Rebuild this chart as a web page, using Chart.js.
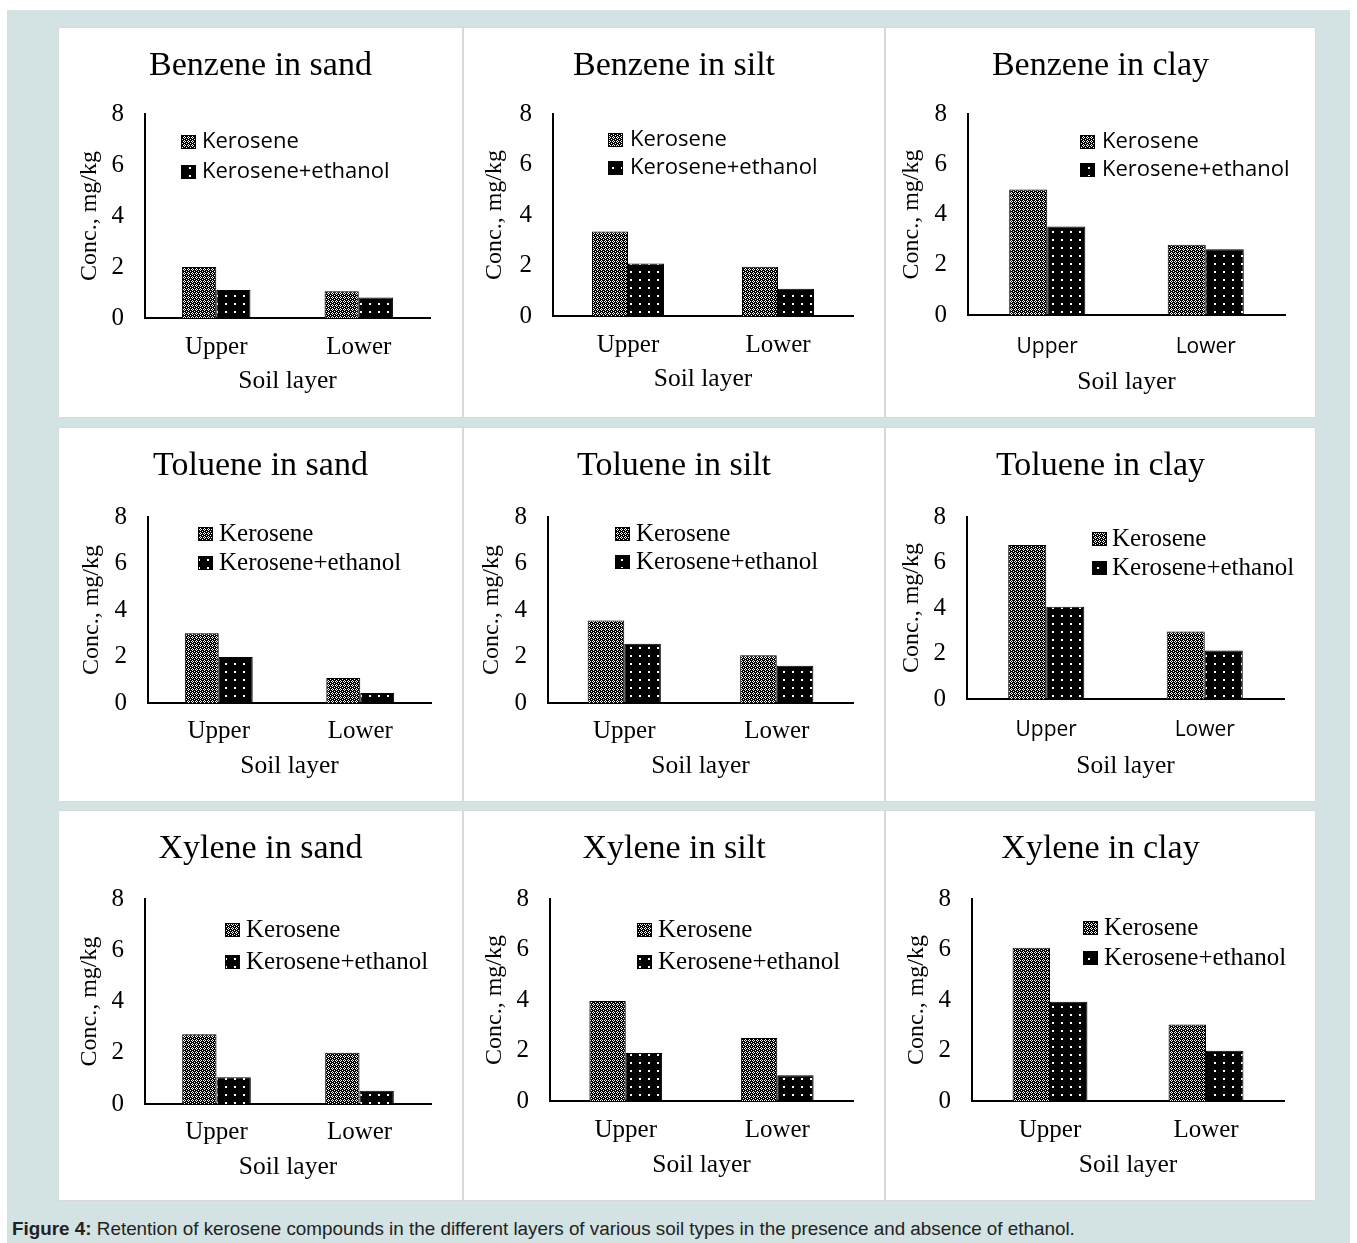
<!DOCTYPE html>
<html>
<head>
<meta charset="utf-8">
<script src="https://cdn.jsdelivr.net/npm/chart.js@4"></script>
<style>
body{margin:0;background:#fff;width:1357px;height:1243px;position:relative;overflow:hidden}
#frame{position:absolute;left:7px;top:10px;width:1343px;height:1233px;background:#d3e3e3}
.panel{position:absolute;background:#fff;border:1px solid #d9d9d9;box-sizing:border-box}
.panel canvas{position:absolute;left:0;top:0}
#caption{position:absolute;left:12px;top:1218px;font:18.85px/22px "Liberation Sans",Arial,sans-serif;color:#222;white-space:nowrap}
</style>
</head>
<body>
<div id="frame"></div>
<div id="caption"><b>Figure 4:</b> Retention of kerosene compounds in the different layers of various soil types in the presence and absence of ethanol.</div>
<script>
// categories and series names
var soilLayers = ['Upper', 'Lower'];
var seriesNames = ['Kerosene', 'Kerosene+ethanol'];
var yMin = 0, yMax = 8, yStep = 2;

// values, [Upper, Lower]
var benzeneSandKero = [2.0, 1.05];
var benzeneSandKeroEth = [1.1, 0.8];
var benzeneSiltKero = [3.35, 1.95];
var benzeneSiltKeroEth = [2.08, 1.08];
var benzeneClayKero = [5.0, 2.8];
var benzeneClayKeroEth = [3.52, 2.62];
var tolueneSandKero = [3.0, 1.08];
var tolueneSandKeroEth = [1.98, 0.43];
var tolueneSiltKero = [3.55, 2.05];
var tolueneSiltKeroEth = [2.55, 1.6];
var tolueneClayKero = [6.77, 2.97];
var tolueneClayKeroEth = [4.05, 2.13];
var xyleneSandKero = [2.72, 2.0];
var xyleneSandKeroEth = [1.04, 0.52];
var xyleneSiltKero = [3.96, 2.5];
var xyleneSiltKeroEth = [1.9, 1.02];
var xyleneClayKero = [6.07, 3.03];
var xyleneClayKeroEth = [3.93, 1.99];

var SERIF = '"Liberation Serif", "Times New Roman", serif';
var SANS = '"Open Sans", "Noto Sans", sans-serif';

// fill patterns like the excel ones
function makePattern(kind) {
	var c = document.createElement('canvas');
	var g;
	if (kind == 'check') {
		c.width = 4; c.height = 4;
		g = c.getContext('2d');
		g.fillStyle = '#000'; g.fillRect(0, 0, 4, 4);
		g.fillStyle = '#fff';
		[[1,0],[0,1],[2,1],[1,2],[3,3]].forEach(function (p) { g.fillRect(p[0], p[1], 1, 1); });
	} else {
		c.width = 9; c.height = 8;
		g = c.getContext('2d');
		g.fillStyle = '#000'; g.fillRect(0, 0, 9, 8);
		g.fillStyle = '#fff'; g.fillRect(4, 3, 2, 2);
	}
	return g.createPattern(c, 'repeat');
}

// legend drawn inside the plot, two rows
var boxLegend = {
	id: 'boxLegend',
	afterDraw: function (chart, args, opts) {
		var ctx = chart.ctx;
		ctx.save();
		chart.data.datasets.forEach(function (ds, i) {
			var y = opts.rows[i];
			ctx.fillStyle = ds.backgroundColor;
			ctx.fillRect(opts.boxX, y - 7, 15, 14);
			ctx.strokeStyle = '#000'; ctx.lineWidth = 1;
			ctx.strokeRect(opts.boxX + 0.5, y - 6.5, 14, 13);
			ctx.fillStyle = '#000';
			ctx.font = opts.font;
			ctx.textAlign = 'left'; ctx.textBaseline = 'middle';
			ctx.fillText(ds.label, opts.textX, y);
		});
		ctx.restore();
	}
};

function buildChart(p, title, kero, keroEth) {
	var cx = p.x + 1, cy = p.y + 1, w = p.w - 2, h = p.h - 2;
	var div = document.createElement('div');
	div.className = 'panel';
	div.style.left = p.x + 'px'; div.style.top = p.y + 'px';
	div.style.width = p.w + 'px'; div.style.height = p.h + 'px';
	var canvas = document.createElement('canvas');
	canvas.width = w; canvas.height = h;
	canvas.style.width = w + 'px'; canvas.style.height = h + 'px';
	div.appendChild(canvas);
	document.body.appendChild(div);

	// same padding both sides so the title stays centred on the panel
	var padSide = cx + w - p.right;
	var xHeight = p.xTitleY + 12.75 - p.bottom;
	var tickFont = p.sansTicks ? {family: SANS, size: 21, lineHeight: 1} : {family: SERIF, size: 25, lineHeight: 1};
	var legFont = p.sansLegend ? '22px ' + SANS : '25px ' + SERIF;

	new Chart(canvas, {
		type: 'bar',
		data: {
			labels: soilLayers,
			datasets: [{
				label: seriesNames[0], data: kero,
				backgroundColor: makePattern('check'), borderColor: '#000', borderWidth: 1,
				categoryPercentage: 0.48, barPercentage: 1
			}, {
				label: seriesNames[1], data: keroEth,
				backgroundColor: makePattern('dots'), borderColor: '#000', borderWidth: 1,
				categoryPercentage: 0.48, barPercentage: 1
			}]
		},
		options: {
			responsive: false,
			animation: false,
			events: [],
			layout: {padding: {left: padSide, right: padSide, top: 0, bottom: cy + h - p.bottom - xHeight}},
			plugins: {
				legend: {display: false},
				tooltip: {enabled: false},
				title: {
					display: true, text: title, color: '#000',
					font: {family: SERIF, size: 34, weight: 'normal', lineHeight: 1},
					padding: {top: p.titleY - cy - 17, bottom: p.top - p.titleY - 17}
				},
				boxLegend: {boxX: p.boxX - cx, textX: p.textX - cx, rows: [p.rows[0] - cy, p.rows[1] - cy], font: legFont}
			},
			scales: {
				x: {
					z: 1,
					grid: {display: false, drawTicks: false},
					border: {display: true, color: '#000', width: 2},
					ticks: {color: '#000', font: tickFont, padding: p.xTickY - p.bottom - (p.sansTicks ? 10.5 : 12.5)},
					title: {display: true, text: 'Soil layer', color: '#000', font: {family: SERIF, size: 25.5, lineHeight: 1}, padding: 0},
					afterFit: function (s) { s.height = xHeight; }
				},
				y: {
					min: yMin, max: yMax,
					grid: {display: false, drawTicks: false},
					border: {display: true, color: '#000', width: 2},
					ticks: {stepSize: yStep, color: '#000', font: {family: SERIF, size: 25, lineHeight: 1}, padding: 21},
					title: {
						display: true, text: 'Conc., mg/kg', color: '#000',
						font: {family: SERIF, size: 24, lineHeight: 1},
						padding: {top: p.yTitleX - 12 - cx - padSide, bottom: 0}
					},
					afterFit: function (s) { s.width = p.left - cx - padSide; }
				}
			}
		},
		plugins: [boxLegend]
	});
}

// panel geometry (page pixels)
var cols = [{x: 58, w: 405}, {x: 463, w: 422}, {x: 885, w: 431}];
var rows = [{y: 27, h: 391}, {y: 427, h: 375}, {y: 810, h: 391}];
function geo(r, c, g) { g.x = cols[c].x; g.w = cols[c].w; g.y = rows[r].y; g.h = rows[r].h; return g; }

buildChart(geo(0, 0, {left: 145, top: 114, bottom: 318, right: 430, titleY: 66, xTickY: 347, xTitleY: 381, yTitleX: 90, boxX: 181, rows: [142, 172], textX: 202, sansLegend: true}), 'Benzene in sand', benzeneSandKero, benzeneSandKeroEth);
buildChart(geo(0, 1, {left: 553, top: 114, bottom: 316, right: 853, titleY: 66, xTickY: 345, xTitleY: 379, yTitleX: 495, boxX: 608, rows: [140, 168], textX: 630, sansLegend: true}), 'Benzene in silt', benzeneSiltKero, benzeneSiltKeroEth);
buildChart(geo(0, 2, {left: 968, top: 114, bottom: 315, right: 1285, titleY: 66, xTickY: 347, xTitleY: 382, yTitleX: 912, boxX: 1080, rows: [142, 170], textX: 1102, sansLegend: true, sansTicks: true}), 'Benzene in clay', benzeneClayKero, benzeneClayKeroEth);
buildChart(geo(1, 0, {left: 148, top: 517, bottom: 703, right: 431, titleY: 466, xTickY: 731, xTitleY: 766, yTitleX: 92, boxX: 198, rows: [534, 563], textX: 219}), 'Toluene in sand', tolueneSandKero, tolueneSandKeroEth);
buildChart(geo(1, 1, {left: 548, top: 517, bottom: 703, right: 853, titleY: 466, xTickY: 731, xTitleY: 766, yTitleX: 492, boxX: 615, rows: [534, 562], textX: 636}), 'Toluene in silt', tolueneSiltKero, tolueneSiltKeroEth);
buildChart(geo(1, 2, {left: 967, top: 517, bottom: 699, right: 1284, titleY: 466, xTickY: 730, xTitleY: 766, yTitleX: 912, boxX: 1092, rows: [539, 568], textX: 1112, sansTicks: true}), 'Toluene in clay', tolueneClayKero, tolueneClayKeroEth);
buildChart(geo(2, 0, {left: 145, top: 899, bottom: 1104, right: 431, titleY: 849, xTickY: 1132, xTitleY: 1167, yTitleX: 90, boxX: 225, rows: [930, 962], textX: 246}), 'Xylene in sand', xyleneSandKero, xyleneSandKeroEth);
buildChart(geo(2, 1, {left: 550, top: 899, bottom: 1101, right: 853, titleY: 849, xTickY: 1130, xTitleY: 1165, yTitleX: 495, boxX: 637, rows: [930, 962], textX: 658}), 'Xylene in silt', xyleneSiltKero, xyleneSiltKeroEth);
buildChart(geo(2, 2, {left: 972, top: 899, bottom: 1101, right: 1284, titleY: 849, xTickY: 1130, xTitleY: 1165, yTitleX: 917, boxX: 1083, rows: [928, 958], textX: 1104}), 'Xylene in clay', xyleneClayKero, xyleneClayKeroEth);
</script>
</body>
</html>
